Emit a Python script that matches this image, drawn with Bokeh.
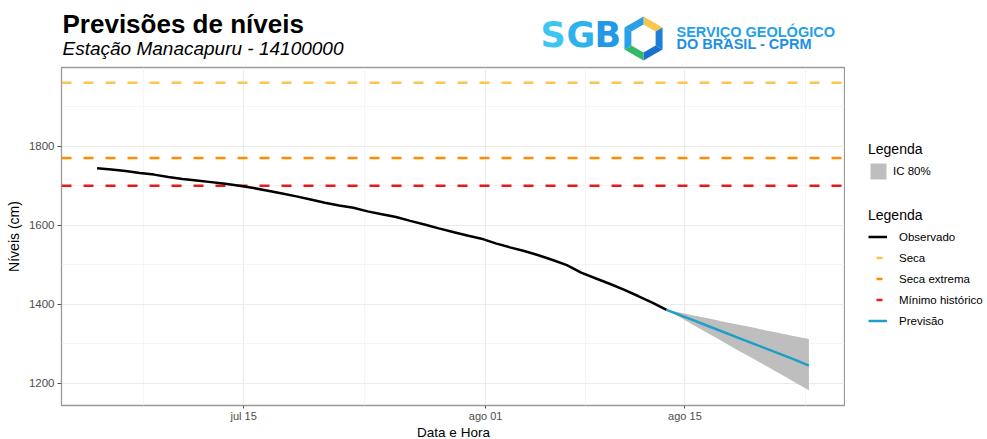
import math
import pandas as pd
from bokeh.plotting import figure
from bokeh.layouts import column, row
from bokeh.models import Range1d, FixedTicker, Span, Legend, LegendItem
from bokeh.core.properties import value
from bokeh.embed import file_html
from bokeh.resources import INLINE

# ---------------- data ----------------
obs_dates = pd.date_range("2024-07-04 17:00", periods=41, freq="D")
obs_levels = [1744, 1741, 1737, 1732, 1728, 1722, 1717, 1713, 1709, 1705, 1700,
              1694, 1687, 1680, 1673, 1665, 1657, 1650, 1644, 1635, 1628, 1621,
              1611, 1602, 1592, 1583, 1574, 1566,
              1554, 1544, 1535, 1524, 1512, 1499, 1480, 1466, 1452, 1437, 1421, 1404, 1386]
fc_dates = pd.date_range("2024-08-13 17:00", periods=11, freq="D")
fc_levels = [1386, 1372, 1358, 1344, 1330, 1316, 1302, 1288, 1274, 1260, 1245]
fc_upper = [1386, 1379, 1371, 1364, 1356, 1349, 1342, 1334, 1327, 1319, 1312]
fc_lower = [1386, 1366, 1345, 1325, 1305, 1284, 1264, 1244, 1224, 1203, 1183]
seca = 1960
seca_extrema = 1770
minimo_historico = 1700
x_tick_dates = ["2024-07-15", "2024-08-01", "2024-08-15"]
x_tick_labels = ["jul 15", "ago 01", "ago 15"]
x_minor_dates = ["2024-07-08", "2024-07-23 12:00", "2024-08-08", "2024-08-23 12:00"]
y_ticks = [1200, 1400, 1600, 1800]
y_minor = [1300, 1500, 1700, 1900]
legend_labels = ["Observado", "Seca", "Seca extrema", "Mínimo histórico", "Previsão"]

# ---------------- layout constants ----------------
W, H = 987, 439
HEAD_H = 62
FOOT_H = 15
MAIN_W = 845
LEG_W = W - MAIN_W
BODY_H = H - HEAD_H - FOOT_H
FRAME_BOTTOM = 407
FONT = "Liberation Sans"

COL_SECA = "#fec44f"
COL_EXT = "#ff8c00"
COL_MIN = "#e41a1c"
COL_PREV = "#1f9fc7"
COL_BAND = "#bebebe"


def ms(s):
    return int(pd.Timestamp(s).value // 10**6)


def blank(width, height, yr):
    f = figure(width=width, height=height, x_range=Range1d(0, width), y_range=yr,
               output_backend="svg", toolbar_location=None, title=None,
               x_axis_location=None, y_axis_location=None,
               min_border_left=0, min_border_right=0, min_border_top=0, min_border_bottom=0)
    f.grid.visible = False
    f.outline_line_color = None
    f.background_fill_color = "white"
    f.border_fill_color = "white"
    return f


def put_text(f, t, x, y, size, style="normal", color="black", font=FONT, align="left"):
    f.text(x=[x], y=[y], text=[t], text_font=value(font), text_font_size=value(size),
           text_font_style=value(style), text_color=color, text_baseline="middle",
           text_align=align)


# ---------------- header (title + logo) ----------------
hd = blank(W, HEAD_H, Range1d(HEAD_H, 0))

put_text(hd, "Previsões de níveis", 62, 23, "26px", style="bold")
put_text(hd, "Estação Manacapuru - 14100000", 62, 47.5, "19px", style="italic")

put_text(hd, "S", 540, 34, "35px", style="bold", color="#3ec6f3", font="DejaVu Sans")
put_text(hd, "G", 566, 34, "35px", style="bold", color="#2eb2ee", font="DejaVu Sans")
put_text(hd, "B", 594, 34, "35px", style="bold", color="#2298e6", font="DejaVu Sans")

cx0, cy0, Ro, Ri = 643, 38, 22, 14
vo = [(cx0 + Ro * math.cos(math.radians(90 - 60 * k)), cy0 - Ro * math.sin(math.radians(90 - 60 * k))) for k in range(6)]
vi = [(cx0 + Ri * math.cos(math.radians(90 - 60 * k)), cy0 - Ri * math.sin(math.radians(90 - 60 * k))) for k in range(6)]
seg_cols = ["#f7c64a", "#1f7fd6", "#1b6fcf", "#34b86a", "#2a9fe8", "#2a9fe8"]
hx, hy = [], []
for k in range(6):
    a, b = k, (k + 1) % 6
    pts = [vo[a], vo[b], vi[b], vi[a]]
    hx.append([q[0] for q in pts])
    hy.append([q[1] for q in pts])
hd.patches(xs=hx, ys=hy, fill_color=seg_cols, line_color=None)

put_text(hd, "SERVIÇO GEOLÓGICO", 676, 31, "14.5px", style="bold", color="#22a0ea")
put_text(hd, "DO BRASIL - CPRM", 676, 43.5, "14.5px", style="bold", color="#1d8fe3")

# ---------------- main plot ----------------
x_lo = obs_dates[0]
x_hi = fc_dates[-1]
xpad = (x_hi - x_lo) * 0.05
allv = obs_levels + fc_upper + fc_lower + [seca, seca_extrema, minimo_historico]
y_lo, y_hi = min(allv), max(allv)
ypad = (y_hi - y_lo) * 0.05

p = figure(width=MAIN_W, height=BODY_H, x_axis_type="datetime", title=None,
           x_range=Range1d(x_lo - xpad, x_hi + xpad),
           y_range=Range1d(y_lo - ypad, y_hi + ypad),
           output_backend="svg", toolbar_location=None,
           min_border_left=61, min_border_right=1, min_border_top=5,
           min_border_bottom=H - FOOT_H - FRAME_BOTTOM)
p.background_fill_color = "white"
p.border_fill_color = "white"
p.outline_line_color = "#9a9a9a"
p.outline_line_width = 1.3

xt = FixedTicker(ticks=[ms(d) for d in x_tick_dates], minor_ticks=[ms(d) for d in x_minor_dates])
yt = FixedTicker(ticks=y_ticks, minor_ticks=y_minor)
p.xaxis.ticker = xt
p.xgrid.ticker = xt
p.yaxis.ticker = yt
p.ygrid.ticker = yt
p.xaxis.major_label_overrides = {ms(d): l for d, l in zip(x_tick_dates, x_tick_labels)}

for ax in (p.xaxis, p.yaxis):
    ax.axis_line_color = None
    ax.major_tick_line_color = "#555555"
    ax.major_tick_out = 4
    ax.major_tick_in = 0
    ax.minor_tick_line_color = None
    ax.major_label_text_font = FONT
    ax.major_label_text_font_size = "11.5px"
    ax.major_label_text_color = "#4d4d4d"
    ax.major_label_standoff = 3
    ax.axis_label_text_font = FONT
    ax.axis_label_text_font_size = "14px"
    ax.axis_label_text_font_style = "normal"
    ax.axis_label_text_color = "black"

p.xaxis.major_label_standoff = 0
p.xaxis.major_tick_out = 3
p.xaxis.major_label_text_font_size = "11px"
p.yaxis.axis_label = "Níveis (cm)"
p.yaxis.axis_label_standoff = 4

for g in (p.xgrid, p.ygrid):
    g.grid_line_color = "#ebebeb"
    g.grid_line_width = 1
    g.minor_grid_line_color = "#f2f2f2"
    g.minor_grid_line_width = 0.8

for lvl, col in ((seca, COL_SECA), (seca_extrema, COL_EXT), (minimo_historico, COL_MIN)):
    p.add_layout(Span(location=lvl, dimension="width", line_color=col, line_width=2.5,
                      line_dash="10 12", level="underlay"))

p.varea(x=fc_dates, y1=fc_lower, y2=fc_upper, fill_color=COL_BAND, fill_alpha=1)
p.line(obs_dates, obs_levels, line_color="black", line_width=2.5)
p.line(fc_dates, fc_levels, line_color=COL_PREV, line_width=2.5)

# ---------------- legend panel ----------------
# legend-key placeholders, kept outside the visible range of the legend panel
lg = blank(LEG_W, BODY_H, Range1d(0, BODY_H))
kx = [-1000, -999]
k_band = lg.varea(x=kx, y1=[0, 0], y2=[1, 1], fill_color=COL_BAND, fill_alpha=1)
k_obs = lg.line(x=kx, y=[0, 0], line_color="black", line_width=2.5)
k_seca = lg.line(x=kx, y=[0, 0], line_color=COL_SECA, line_width=2.5, line_dash="0 8 6 40")
k_ext = lg.line(x=kx, y=[0, 0], line_color=COL_EXT, line_width=2.5, line_dash="0 8 6 40")
k_min = lg.line(x=kx, y=[0, 0], line_color=COL_MIN, line_width=2.5, line_dash="0 8 6 40")
k_prev = lg.line(x=kx, y=[0, 0], line_color=COL_PREV, line_width=2.5)


def style_legend(l):
    l.padding = 0
    l.margin = 0
    l.spacing = 0
    l.border_line_color = None
    l.background_fill_alpha = 0
    l.title_text_font = FONT
    l.title_text_font_size = "14px"
    l.title_text_font_style = "normal"
    l.title_text_color = "black"
    l.label_text_font = FONT
    l.label_text_font_size = "11.5px"
    l.label_text_color = "black"


leg_x = 868 - MAIN_W
leg1 = Legend(items=[LegendItem(label="IC 80%", renderers=[k_band])], title="Legenda",
              location=(leg_x, FRAME_BOTTOM - 182.5))
style_legend(leg1)
leg1.glyph_width = 20
leg1.glyph_height = 20
leg1.label_height = 20
leg1.label_standoff = 5
leg1.title_standoff = 4
lg.add_layout(leg1)

leg2 = Legend(items=[LegendItem(label=t, renderers=[r]) for t, r in
                     zip(legend_labels, [k_obs, k_seca, k_ext, k_min, k_prev])],
              title="Legenda", location=(leg_x, FRAME_BOTTOM - 333))
style_legend(leg2)
leg2.glyph_width = 19
leg2.glyph_height = 21
leg2.label_height = 21
leg2.label_standoff = 12
leg2.title_standoff = 3
lg.add_layout(leg2)

# ---------------- footer (x-axis title) ----------------
ft = blank(W, FOOT_H, Range1d(FOOT_H, 0))
put_text(ft, "Data e Hora", 453, FOOT_H / 2, "13.5px", align="center")

layout = column(hd, row(p, lg, spacing=0), ft, spacing=0)
open("out.html", "w").write(file_html(layout, INLINE))
